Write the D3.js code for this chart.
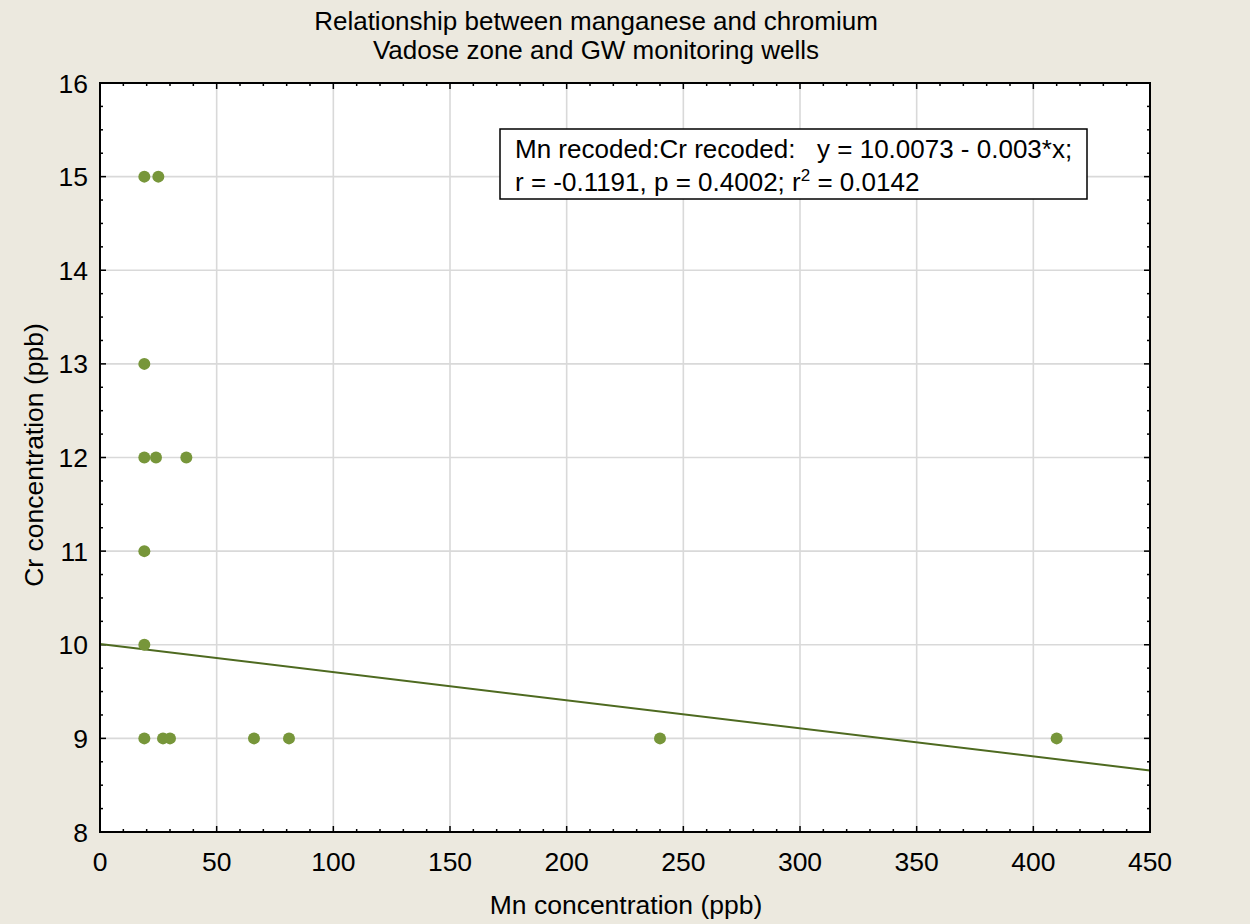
<!DOCTYPE html>
<html><head><meta charset="utf-8">
<script src="https://cdn.jsdelivr.net/npm/d3@7"></script>
<style>
html,body{margin:0;padding:0;background:#ECE9DF;}
svg text{font-family:"Liberation Sans",Arial,sans-serif;fill:#000;}
</style></head>
<body>
<script>
// Data
const mnValues = [19, 25, 19, 19, 24, 37, 19, 19, 19, 27, 30, 66, 81, 240, 410];
const crValues = [15, 15, 13, 12, 12, 12, 11, 10, 9, 9, 9, 9, 9, 9, 9];
const regIntercept = 10.0073;
const regSlope = -0.003;
const xTicks = [0, 50, 100, 150, 200, 250, 300, 350, 400, 450];
const yTicks = [8, 9, 10, 11, 12, 13, 14, 15, 16];
const titleLines = ["Relationship between manganese and chromium", "Vadose zone and GW monitoring wells"];
const xLabel = "Mn concentration (ppb)";
const yLabel = "Cr concentration (ppb)";

const W = 1250, H = 924;
const L = 100, R = 1150, T = 83, B = 832;
const svg = d3.select("body").append("svg").attr("width", W).attr("height", H);
svg.append("rect").attr("width", W).attr("height", H).attr("fill", "#ECE9DF");

const x = d3.scaleLinear().domain([0, 450]).range([L, R]);
const y = d3.scaleLinear().domain([8, 16]).range([B, T]);

svg.append("rect").attr("x", L).attr("y", T).attr("width", R - L).attr("height", B - T).attr("fill", "#fff");

// grid
svg.append("g").selectAll("line").data(xTicks.slice(1, -1)).join("line")
  .attr("x1", d => x(d)).attr("x2", d => x(d)).attr("y1", T).attr("y2", B)
  .attr("stroke", "#d9d9d9").attr("stroke-width", 1.6);
svg.append("g").selectAll("line").data(yTicks.slice(1, -1)).join("line")
  .attr("y1", d => y(d)).attr("y2", d => y(d)).attr("x1", L).attr("x2", R)
  .attr("stroke", "#d9d9d9").attr("stroke-width", 1.6);

// ticks (inward) on all four sides
const xMinor = d3.range(0, 451, 10).filter(v => v % 50 !== 0);
const yMinor = d3.range(8, 16.001, 0.25).filter(v => Math.abs(v - Math.round(v)) > 1e-6);
function ticks(vals, len) {
  const g = svg.append("g").attr("stroke", "#000").attr("stroke-width", 1.5);
  vals.x.forEach(v => {
    g.append("line").attr("x1", x(v)).attr("x2", x(v)).attr("y1", B).attr("y2", B - len);
    g.append("line").attr("x1", x(v)).attr("x2", x(v)).attr("y1", T).attr("y2", T + len);
  });
  vals.y.forEach(v => {
    g.append("line").attr("y1", y(v)).attr("y2", y(v)).attr("x1", L).attr("x2", L + len);
    g.append("line").attr("y1", y(v)).attr("y2", y(v)).attr("x1", R).attr("x2", R - len);
  });
}
ticks({x: xTicks, y: yTicks}, 6);
ticks({x: xMinor, y: yMinor}, 3);

// regression line
svg.append("line")
  .attr("x1", x(0)).attr("y1", y(regIntercept))
  .attr("x2", x(450)).attr("y2", y(regIntercept + regSlope * 450))
  .attr("stroke", "#4e6a20").attr("stroke-width", 2);

// points
svg.append("g").selectAll("circle").data(mnValues.map((m, i) => [m, crValues[i]])).join("circle")
  .attr("cx", d => x(d[0])).attr("cy", d => y(d[1])).attr("r", 6)
  .attr("fill", "#77963a");

// frame
svg.append("rect").attr("x", L).attr("y", T).attr("width", R - L).attr("height", B - T)
  .attr("fill", "none").attr("stroke", "#000").attr("stroke-width", 2);

// tick labels
svg.append("g").selectAll("text").data(xTicks).join("text")
  .attr("x", d => x(d)).attr("y", 871).attr("text-anchor", "middle")
  .attr("font-size", 26.5).text(d => d);
svg.append("g").selectAll("text").data(yTicks).join("text")
  .attr("x", 88).attr("y", d => y(d) + 9.5).attr("text-anchor", "end")
  .attr("font-size", 26.5).text(d => d);

// axis labels
svg.append("text").attr("x", 626).attr("y", 914).attr("text-anchor", "middle")
  .attr("font-size", 26.5).text(xLabel);
svg.append("text").attr("transform", "translate(43,455) rotate(-90)").attr("text-anchor", "middle")
  .attr("font-size", 26.5).text(yLabel);

// title
svg.append("g").selectAll("text").data(titleLines).join("text")
  .attr("x", 596).attr("y", (d, i) => 30 + i * 29).attr("text-anchor", "middle")
  .attr("font-size", 26).text(d => d);

// legend box
const lg = svg.append("g");
lg.append("rect").attr("x", 500).attr("y", 129).attr("width", 587).attr("height", 70)
  .attr("fill", "#fff").attr("stroke", "#000").attr("stroke-width", 1.5);
lg.append("text").attr("x", 515).attr("y", 158).attr("font-size", 26).attr("xml:space", "preserve")
  .text("Mn recoded:Cr recoded:   y = " + regIntercept.toFixed(4) + " - " + Math.abs(regSlope).toFixed(3) + "*x;");
const t2 = lg.append("text").attr("x", 515).attr("y", 191).attr("font-size", 26);
t2.append("tspan").text("r = -0.1191, p = 0.4002; r");
t2.append("tspan").attr("font-size", 17).attr("dy", -10).text("2");
t2.append("tspan").attr("dy", 10).text(" = 0.0142");
</script>
</body></html>
